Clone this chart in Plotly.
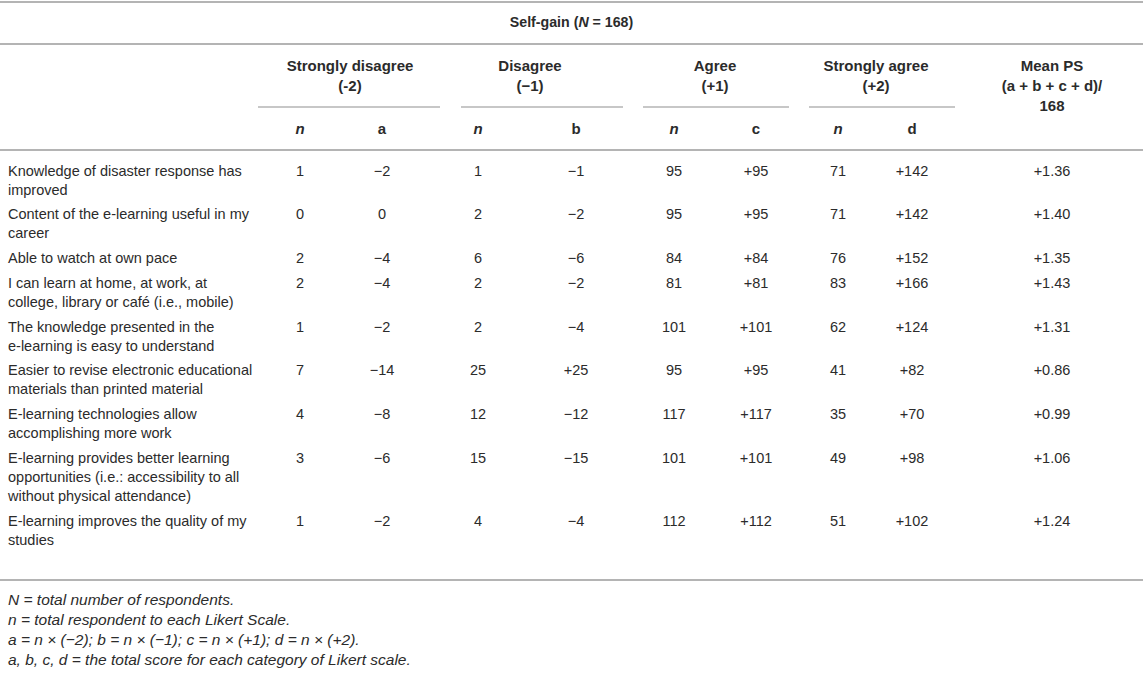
import plotly.graph_objects as go

# --- table content ---
statements = [
    "Knowledge of disaster response has\nimproved",
    "Content of the e-learning useful in my\ncareer",
    "Able to watch at own pace",
    "I can learn at home, at work, at\ncollege, library or café (i.e., mobile)",
    "The knowledge presented in the\ne-learning is easy to understand",
    "Easier to revise electronic educational\nmaterials than printed material",
    "E-learning technologies allow\naccomplishing more work",
    "E-learning provides better learning\nopportunities (i.e.: accessibility to all\nwithout physical attendance)",
    "E-learning improves the quality of my\nstudies",
]
n_sd = [1, 0, 2, 2, 1, 7, 4, 3, 1]
a_score = [-2, 0, -4, -4, -2, -14, -8, -6, -2]
n_d = [1, 2, 6, 2, 2, 25, 12, 15, 4]
b_score = [-1, -2, -6, -2, -4, 25, -12, -15, -4]
n_a = [95, 95, 84, 81, 101, 95, 117, 101, 112]
c_score = [95, 95, 84, 81, 101, 95, 117, 101, 112]
n_sa = [71, 71, 76, 83, 62, 41, 35, 49, 51]
d_score = [142, 142, 152, 166, 124, 82, 70, 98, 102]
mean_ps = [1.36, 1.40, 1.35, 1.43, 1.31, 0.86, 0.99, 1.06, 1.24]

title = "<b>Self-gain (<i>N</i> = 168)</b>"
groups = ["Strongly disagree\n(-2)", "Disagree\n(\u22121)", "Agree\n(+1)", "Strongly agree\n(+2)"]
mean_head = "Mean PS\n(a + b + c + d)/\n168"
sub_heads = ["<i>n</i>", "a", "<i>n</i>", "b", "<i>n</i>", "c", "<i>n</i>", "d"]
notes = [
    "<i>N</i> = total number of respondents.",
    "<i>n</i> = total respondent to each Likert Scale.",
    "<i>a</i> = <i>n</i> \u00d7 (\u22122); <i>b</i> = <i>n</i> \u00d7 (\u22121); <i>c</i> = <i>n</i> \u00d7 (+1); <i>d</i> = <i>n</i> \u00d7 (+2).",
    "<i>a, b, c, d</i> = the total score for each category of Likert scale.",
]

# --- layout (pixel space) ---
W, H = 1143, 683
label_x = 8
col_x = [300, 382, 478, 576, 674, 756, 838, 912, 1052]
group_lines = [(258, 440), (461, 623), (643, 789), (809, 955)]
group_cx = [350, 530, 715, 876]
row0, line_step, row_gap = 172, 19, 24.75
text_col = "#2b2b2b"
rule_col = "#b4b4b4"
FONT = "Liberation Sans, Arial, sans-serif"


def signed(v):
    if v == 0:
        return "0"
    return ("+" if v > 0 else "\u2212") + str(abs(v))


xs, ys, ts, pos, sizes = [], [], [], [], []

def put(x, y, t, p="middle center", s=14.5):
    xs.append(x); ys.append(y); ts.append(t); pos.append(p); sizes.append(s)

# header
put(W / 2, 23, title, s=14.2)
for k, g in enumerate(groups):
    for j, part in enumerate(g.split("\n")):
        put(group_cx[k], 67 + 20 * j, "<b>" + part + "</b>", s=15)
for j, part in enumerate(mean_head.split("\n")):
    put(col_x[8], 67 + 20 * j, "<b>" + part + "</b>", s=15)
for k, s in enumerate(sub_heads):
    put(col_x[k], 130, "<b>" + s + "</b>", s=15)

# body
y = row0
bottom = 0
for i, s in enumerate(statements):
    lines = s.split("\n")
    for j, part in enumerate(lines):
        put(label_x, y + j * line_step, part, "middle right")
    vals = [str(n_sd[i]), signed(a_score[i]), str(n_d[i]), signed(b_score[i]),
            str(n_a[i]), signed(c_score[i]), str(n_sa[i]), signed(d_score[i]),
            "+%.2f" % mean_ps[i]]
    for k, v in enumerate(vals):
        put(col_x[k], y, v)
    bottom = y + (len(lines) - 1) * line_step
    y = bottom + row_gap

rule_bottom = bottom + 39
for j, nt in enumerate(notes):
    put(label_x, rule_bottom + 21 + 20 * j, "<i>" + nt + "</i>", "middle right", 15.5)

fig = go.Figure(go.Scatter(
    x=xs, y=ys, text=ts, mode="text", textposition=pos,
    textfont=dict(family=FONT, size=sizes, color=text_col),
    hoverinfo="skip", showlegend=False,
))

shapes = []
for yy in [2, 44, 150, rule_bottom]:
    shapes.append(dict(type="line", xref="x", yref="y", x0=0, x1=W, y0=yy, y1=yy,
                       line=dict(color=rule_col, width=2)))
for x0, x1 in group_lines:
    shapes.append(dict(type="line", xref="x", yref="y", x0=x0, x1=x1, y0=107, y1=107,
                       line=dict(color=rule_col, width=1.3)))

fig.update_layout(
    width=W, height=H, margin=dict(l=0, r=0, t=0, b=0),
    paper_bgcolor="white", plot_bgcolor="white",
    xaxis=dict(range=[0, W], visible=False, fixedrange=True),
    yaxis=dict(range=[H, 0], visible=False, fixedrange=True),
    shapes=shapes, font=dict(family=FONT),
)

fig.write_html("out.html", config={"displayModeBar": False},
               post_script="document.body.style.margin='0';")
